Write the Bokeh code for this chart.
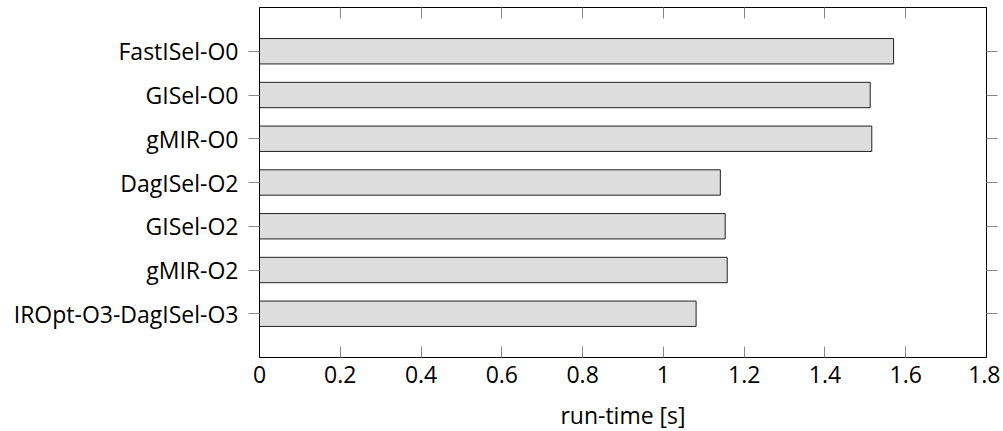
from bokeh.plotting import figure
from bokeh.models import LinearAxis, FixedTicker, CustomJSTickFormatter, Range1d, ColumnDataSource
from bokeh.embed import file_html
from bokeh.resources import INLINE

categories = ["FastISel-O0", "GISel-O0", "gMIR-O0", "DagISel-O2", "GISel-O2", "gMIR-O2", "IROpt-O3-DagISel-O3"]
runtimes = [1.570, 1.512, 1.516, 1.141, 1.153, 1.158, 1.081]
x_ticks = [0, 0.2, 0.4, 0.6, 0.8, 1.0, 1.2, 1.4, 1.6, 1.8]

n = len(categories)
ypos = list(range(1, n + 1))
src = ColumnDataSource(dict(y=ypos, right=runtimes, name=categories))

FONT = "Open Sans"
FS = "23px"

p = figure(width=1000, height=428, output_backend="svg", toolbar_location=None,
           x_range=Range1d(0, 1.8), y_range=Range1d(n + 1, 0),
           min_border_left=259, min_border_right=14, min_border_top=7, min_border_bottom=3,
           frame_width=727, frame_height=350)
p.hbar(y="y", right="right", left=0, height=0.58, source=src,
       fill_color="#dddddd", line_color="#222222", line_width=1)

p.xgrid.visible = False
p.ygrid.visible = False
p.outline_line_color = "black"

fmt = CustomJSTickFormatter(code="return String(parseFloat(tick.toFixed(2)));")
blank = CustomJSTickFormatter(code="return '';")

xa = p.xaxis[0]
xa.ticker = FixedTicker(ticks=x_ticks)
xa.formatter = fmt
xa.axis_label = "run-time [s]"
xa.axis_label_text_font = FONT
xa.axis_label_text_font_size = FS
xa.axis_label_text_font_style = "normal"
xa.axis_label_text_color = "black"
xa.axis_label_standoff = 13
xa.major_label_text_font = FONT
xa.major_label_text_font_size = FS
xa.major_label_text_color = "black"
xa.major_label_standoff = 8
xa.major_tick_in = 11
xa.major_tick_out = 0
xa.minor_tick_line_color = None
xa.major_tick_line_color = "#888888"
xa.axis_line_color = "black"

ya = p.yaxis[0]
ya.ticker = FixedTicker(ticks=ypos)
ya.major_label_overrides = {y: c for y, c in zip(ypos, categories)}
ya.major_label_text_font = FONT
ya.major_label_text_font_size = FS
ya.major_label_text_color = "black"
ya.major_label_standoff = 10
ya.major_tick_in = 0
ya.major_tick_out = 11
ya.minor_tick_line_color = None
ya.major_tick_line_color = "#888888"
ya.axis_line_color = "black"

top = LinearAxis(ticker=FixedTicker(ticks=x_ticks), formatter=blank, major_label_text_font_size="1px",
                 major_tick_in=11, major_tick_out=0, minor_tick_line_color=None,
                 major_tick_line_color="#888888", axis_line_color="black", major_label_standoff=0)
p.add_layout(top, "above")

right = LinearAxis(ticker=FixedTicker(ticks=ypos), formatter=blank, major_label_text_font_size="1px",
                   major_tick_in=0, major_tick_out=11, minor_tick_line_color=None,
                   major_tick_line_color="#888888", axis_line_color="black", major_label_standoff=0)
p.add_layout(right, "right")

open("out.html", "w").write(file_html(p, INLINE))
